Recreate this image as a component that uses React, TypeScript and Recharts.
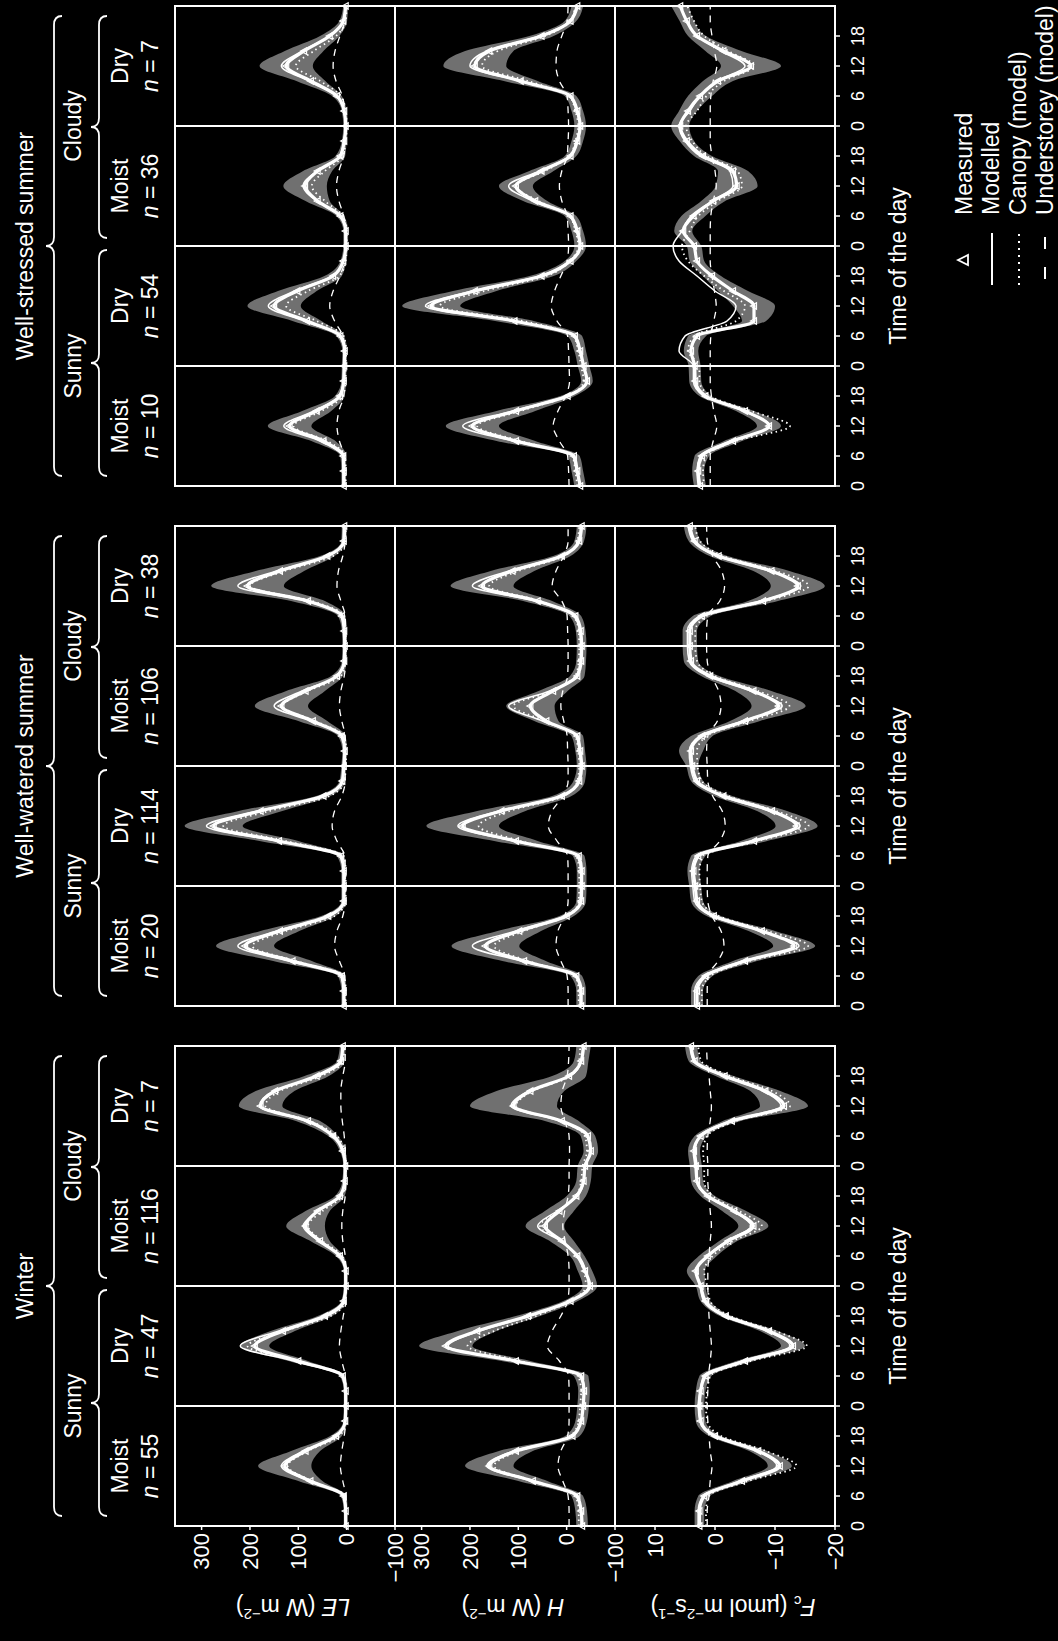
import React from "react";
import {
  ComposedChart,
  Line,
  Area,
  XAxis,
  YAxis,
  ReferenceLine,
  ReferenceArea,
} from "recharts";

const FONT = "'Liberation Sans', Arial, Helvetica, sans-serif";

// time of the four composite days, every 3 h
const hours = [0, 3, 6, 9, 12, 15, 18, 21, 24, 27, 30, 33, 36, 39, 42, 45, 48, 51, 54, 57, 60, 63, 66, 69, 72, 75, 78, 81, 84, 87, 90, 93, 96];
const timeTicks = [0, 6, 12, 18, 24, 30, 36, 42, 48, 54, 60, 66, 72, 78, 84, 90];
const dayBreaks = [24, 48, 72];
const energyTicks = [300, 200, 100, 0, -100];
const carbonTicks = [10, 0, -10, -20];

const seasonNames = ["Winter", "Well-watered summer", "Well-stressed summer"];
const skyNames = ["Sunny", "Cloudy"];
const soilNames = ["Moist", "Dry", "Moist", "Dry"];
const sampleSizes = [
  [55, 47, 116, 7],
  [20, 114, 106, 38],
  [10, 54, 36, 7],
];

// ---- Winter ----
const winterLeMeas = [2, 2, 6, 75, 128, 85, 22, 3, 2, 2, 8, 100, 190, 132, 45, 6, 2, 2, 14, 55, 85, 60, 14, 4, 3, 8, 28, 80, 178, 148, 62, 12, 8];
const winterLeModel = [3, 3, 5, 80, 135, 90, 20, 3, 3, 3, 8, 110, 220, 140, 40, 5, 3, 3, 12, 58, 90, 58, 12, 4, 3, 8, 25, 85, 180, 150, 60, 10, 8];
const winterLeCanopy = [1, 1, 3, 72, 122, 80, 15, 1, 1, 1, 5, 100, 205, 128, 33, 3, 1, 1, 9, 50, 80, 50, 9, 2, 1, 5, 20, 76, 168, 138, 52, 7, 5];
const winterLeUnder = [2, 2, 2, 8, 13, 10, 5, 2, 2, 2, 3, 10, 15, 12, 7, 2, 2, 2, 3, 8, 10, 8, 3, 2, 2, 3, 5, 9, 12, 12, 8, 3, 3];
const winterLeSd = [4, 4, 6, 25, 55, 30, 12, 4, 4, 4, 6, 20, 30, 25, 15, 5, 4, 4, 8, 20, 40, 25, 10, 5, 4, 6, 10, 25, 45, 40, 25, 8, 6];

const winterHMeas = [-32, -30, -22, 70, 160, 105, -12, -30, -34, -36, -30, 105, 250, 185, 80, -8, -48, -38, -22, 10, 45, 15, -20, -35, -38, -50, -44, 10, 110, 75, -5, -30, -35];
const winterHModel = [-30, -30, -20, 75, 165, 110, -10, -30, -33, -35, -28, 110, 245, 180, 75, -10, -45, -40, -25, 12, 60, 20, -23, -36, -38, -48, -42, 15, 115, 78, -8, -30, -33];
const winterHCanopy = [-25, -25, -18, 68, 150, 98, -8, -25, -28, -30, -24, 95, 205, 150, 63, -8, -40, -35, -22, 10, 55, 18, -20, -30, -33, -42, -38, 12, 105, 70, -8, -26, -28];
const winterHUnder = [-5, -5, -3, 8, 18, 12, -2, -5, -5, -5, -4, 15, 40, 30, 12, -2, -5, -5, -3, 3, 8, 4, -3, -5, -5, -6, -5, 4, 12, 9, -1, -4, -5];
const winterHSd = [12, 12, 12, 30, 50, 35, 15, 12, 12, 12, 15, 30, 55, 40, 25, 15, 15, 15, 15, 25, 40, 30, 20, 15, 15, 15, 15, 35, 90, 70, 35, 15, 15];

const winterFcMeas = [2.6, 2.6, 1.8, -4.5, -10.8, -7.2, 0, 2.4, 2.6, 2.4, 1.6, -5, -13, -9, -1.8, 1.6, 2.4, 3.2, 1.2, -2.2, -6.4, -3.2, 1.2, 3.0, 3.2, 3.5, 2.4, -2.8, -11.5, -8.4, -1.6, 3.4, 4.0];
const winterFcModel = [2.8, 2.8, 2.0, -4.2, -10.3, -7.0, 0.3, 2.5, 2.8, 2.5, 1.9, -4.5, -12.5, -8.6, -1.4, 1.9, 2.5, 3.0, 1.4, -1.9, -6.0, -3.0, 1.4, 3.0, 3.0, 3.3, 2.5, -2.5, -11.0, -8.0, -1.4, 3.6, 4.2];
const winterFcCanopy = [1.5, 1.5, 1, -5.5, -13.6, -8.5, -1, 1.3, 1.5, 1.3, 0.8, -6, -15.3, -10, -2.5, 0.8, 1.3, 1.8, 0.4, -3, -7.8, -4, 0.4, 1.8, 1.8, 2.0, 1.3, -3.5, -12.5, -9.5, -2.5, 2.3, 2.8];
const winterFcUnder = [1.3, 1.3, 1.0, 0.8, 0.5, 0.8, 1.0, 1.2, 1.3, 1.2, 1.1, 0.8, 0.6, 0.8, 1.0, 1.1, 1.2, 1.2, 1.0, 0.8, 0.6, 0.8, 1.0, 1.2, 1.2, 1.3, 1.2, 0.8, 0.6, 0.8, 1.0, 1.3, 1.4];
const winterFcSd = [0.8, 0.8, 1, 1.5, 2, 1.5, 1, 0.8, 0.8, 0.8, 1, 1.5, 2, 1.5, 1, 0.8, 0.8, 1.5, 1.5, 1.5, 2.5, 2, 1.2, 1, 1, 1, 1, 1.5, 4, 2.5, 1.5, 1, 1];

// ---- Well-watered summer ----
const wetLeMeas = [6, 6, 10, 112, 210, 138, 38, 6, 6, 6, 12, 140, 275, 178, 48, 9, 6, 4, 10, 70, 135, 85, 20, 5, 4, 5, 10, 80, 205, 138, 40, 6, 5];
const wetLeModel = [5, 5, 8, 120, 225, 145, 35, 5, 5, 5, 10, 145, 290, 185, 45, 8, 5, 3, 8, 75, 150, 92, 18, 4, 3, 4, 8, 85, 225, 145, 38, 5, 4];
const wetLeCanopy = [2, 2, 5, 105, 195, 125, 25, 2, 2, 2, 6, 125, 255, 160, 35, 4, 2, 1, 5, 65, 132, 80, 12, 2, 1, 2, 5, 72, 200, 128, 28, 2, 2];
const wetLeUnder = [3, 3, 4, 15, 25, 20, 8, 3, 3, 3, 4, 20, 30, 25, 10, 3, 3, 2, 3, 10, 15, 12, 5, 2, 2, 2, 3, 12, 20, 17, 8, 3, 2];
const wetLeSd = [5, 5, 8, 40, 60, 40, 15, 5, 5, 5, 8, 40, 60, 45, 15, 6, 5, 5, 8, 30, 55, 40, 12, 5, 5, 5, 8, 35, 75, 50, 15, 5, 5];

const wetHMeas = [-30, -30, -20, 88, 168, 98, 0, -30, -31, -31, -25, 105, 215, 135, 10, -26, -31, -28, -22, 42, 75, 28, -22, -30, -31, -29, -18, 60, 175, 112, 10, -26, -31];
const wetHModel = [-28, -28, -18, 95, 195, 105, 3, -28, -29, -29, -22, 110, 225, 140, 12, -24, -29, -26, -20, 50, 120, 35, -20, -28, -29, -27, -15, 65, 195, 120, 12, -24, -29];
const wetHCanopy = [-25, -25, -18, 80, 150, 88, 0, -25, -26, -26, -20, 95, 182, 118, 5, -22, -26, -24, -18, 45, 110, 30, -18, -25, -26, -25, -14, 55, 160, 100, 5, -22, -26];
const wetHUnder = [-3, -3, -1, 12, 22, 18, 4, -3, -3, -3, -2, 20, 38, 30, 8, -3, -3, -2, -1, 6, 12, 8, -2, -3, -3, -2, -1, 10, 30, 22, 6, -3, -3];
const wetHSd = [10, 10, 12, 45, 70, 45, 15, 10, 10, 10, 12, 45, 75, 50, 20, 12, 10, 10, 12, 25, 50, 30, 15, 10, 10, 10, 12, 30, 65, 45, 18, 10, 10];

const wetFcMeas = [3.0, 3.0, 1.6, -5, -13.2, -7.8, 0.2, 3.0, 3.3, 3.6, 2.8, -6.5, -13.6, -9.5, -1.4, 3.0, 3.8, 4.0, 2.2, -5, -10.6, -6.4, 0.8, 4.0, 4.2, 4.2, 2.2, -8, -13.8, -9.4, -0.6, 3.4, 4.2];
const wetFcModel = [3.4, 3.4, 1.9, -4.6, -14, -7.5, 0.5, 3.4, 3.7, 3.9, 3.2, -6, -14.2, -9, -1, 3.4, 4.1, 4.3, 2.6, -4.6, -11.2, -6, 1.2, 4.3, 4.6, 4.6, 2.6, -7.5, -14.3, -9, -0.3, 3.7, 4.5];
const wetFcCanopy = [2.2, 2.2, 0.8, -5.8, -15.5, -8.8, -0.6, 2.2, 2.5, 2.6, 2.0, -7.2, -15.6, -10.2, -2.2, 2.2, 2.9, 3.0, 1.4, -5.8, -12.4, -7.2, 0, 3.0, 3.3, 3.3, 1.4, -8.6, -15.6, -10.2, -1.4, 2.5, 3.3];
const wetFcUnder = [1.3, 1.3, 1.2, -0.5, -1.5, -1, 0.5, 1.2, 1.3, 1.3, 1.2, -0.8, -1.7, -1.2, 0.4, 1.2, 1.3, 1.4, 1.2, -0.4, -1, -0.6, 0.6, 1.3, 1.4, 1.4, 1.2, -0.8, -1.6, -1.1, 0.4, 1.3, 1.4];
const wetFcSd = [1, 1, 1.2, 2, 3.5, 2.2, 1.2, 1, 1, 1, 1.2, 2.2, 3.5, 2.5, 1.5, 1, 1, 2, 1.8, 2.5, 4.5, 3, 1.5, 1.2, 1.2, 1.2, 1.5, 2.5, 4.5, 3, 1.5, 1, 1];

// ---- Well-stressed summer ----
const dryLeMeas = [6, 6, 7, 48, 118, 62, 14, 6, 5, 4, 13, 82, 150, 102, 28, 7, 2, 2, 13, 60, 86, 60, 13, 5, 2, 5, 20, 74, 125, 88, 35, 7, 2];
const dryLeModel = [7, 7, 8, 55, 130, 68, 15, 7, 6, 5, 14, 88, 162, 108, 30, 7, 2, 2, 14, 62, 90, 62, 14, 6, 2, 6, 21, 78, 135, 92, 36, 7, 2];
const dryLeCanopy = [2, 2, 3, 40, 110, 52, 8, 2, 2, 1, 6, 62, 125, 80, 15, 2, 0, 0, 8, 45, 72, 45, 8, 2, 0, 2, 12, 55, 105, 68, 22, 2, 0];
const dryLeUnder = [4, 4, 5, 15, 20, 16, 6, 4, 4, 4, 8, 25, 35, 28, 14, 4, 2, 2, 6, 16, 21, 16, 6, 3, 2, 4, 9, 22, 28, 24, 14, 4, 2];
const dryLeSd = [5, 5, 6, 25, 45, 30, 10, 5, 5, 5, 8, 30, 55, 40, 18, 6, 5, 5, 8, 25, 45, 30, 10, 5, 5, 5, 10, 30, 55, 40, 20, 8, 5];

const dryHMeas = [-28, -22, -15, 105, 195, 105, -2, -42, -35, -28, -17, 108, 280, 190, 52, -8, -28, -22, -8, 65, 105, 52, -8, -22, -28, -22, -8, 95, 190, 160, 52, -8, -22];
const dryHModel = [-27, -20, -13, 112, 215, 112, 1, -41, -34, -27, -15, 112, 292, 195, 56, -6, -27, -20, -6, 70, 120, 56, -6, -20, -27, -20, -6, 98, 200, 165, 56, -6, -20];
const dryHCanopy = [-22, -18, -12, 95, 185, 95, -2, -35, -30, -24, -14, 90, 262, 170, 42, -6, -24, -18, -6, 58, 105, 45, -6, -18, -24, -18, -6, 80, 175, 142, 44, -6, -18];
const dryHUnder = [-5, -4, -2, 15, 28, 18, 2, -6, -5, -4, -2, 20, 32, 25, 12, -1, -4, -3, -1, 10, 15, 10, -1, -3, -4, -3, -1, 15, 22, 20, 10, -1, -3];
const dryHSd = [12, 12, 12, 40, 55, 40, 15, 12, 12, 12, 15, 40, 60, 45, 25, 12, 12, 12, 12, 25, 35, 25, 12, 12, 12, 12, 12, 35, 65, 50, 25, 12, 12];

const dryFcMeas = [2.5, 2.8, 2.2, -3.0, -9.0, -5.0, 1.6, 3.3, 3.4, 4.0, 3.0, -6.5, -6.5, -3.0, 0.5, 3.0, 3.5, 5.3, 3.6, 0.3, -3.6, -3.0, 2.0, 4.7, 5.8, 4.5, 2.5, -0.5, -6.0, -1.4, 3.0, 4.7, 5.8];
const dryFcModel = [2.8, 3.0, 2.5, -2.5, -9.2, -4.7, 1.9, 3.6, 3.6, 6.0, 5.0, -2.0, -3.5, 0, 3.0, 6.0, 7.0, 5.5, 4.0, 0.5, -3.0, -2.5, 2.5, 5.0, 6.0, 4.2, 2.5, -0.3, -5.0, -1.0, 3.0, 4.7, 5.8];
const dryFcCanopy = [1.8, 2.0, 1.5, -3.5, -12.5, -6, 0.8, 2.6, 2.6, 4.5, 3.5, -3.5, -5, -1.5, 1.8, 4.5, 5.5, 4.2, 2.8, -0.5, -4.5, -3.8, 1.4, 3.8, 4.8, 3.0, 1.4, -1.5, -6.5, -2.2, 1.8, 3.5, 4.6];
const dryFcUnder = [0.8, 0.8, 0.8, 0.3, -0.3, 0.2, 0.6, 0.8, 0.8, 0.8, 0.7, 0.2, -0.2, 0.1, 0.5, 0.8, 0.8, 0.8, 0.7, 0.3, -0.2, 0, 0.5, 0.8, 0.8, 0.8, 0.7, 0.3, -0.3, 0.1, 0.5, 0.8, 0.8];
const dryFcSd = [1, 1, 1.2, 1.5, 2, 1.5, 1, 1, 1, 1.2, 1.5, 2, 3.5, 2.5, 1.5, 1.2, 1.2, 1.5, 2, 2, 3.5, 2.5, 1.5, 1.2, 1.5, 1.5, 2, 2.5, 5, 3, 1.5, 1.2, 1.5];

interface Series {
  meas: number[];
  model: number[];
  canopy: number[];
  under: number[];
  sd: number[];
}

// panels[season][row]  rows: LE, H, Fc
const panels: Series[][] = [
  [
    { meas: winterLeMeas, model: winterLeModel, canopy: winterLeCanopy, under: winterLeUnder, sd: winterLeSd },
    { meas: winterHMeas, model: winterHModel, canopy: winterHCanopy, under: winterHUnder, sd: winterHSd },
    { meas: winterFcMeas, model: winterFcModel, canopy: winterFcCanopy, under: winterFcUnder, sd: winterFcSd },
  ],
  [
    { meas: wetLeMeas, model: wetLeModel, canopy: wetLeCanopy, under: wetLeUnder, sd: wetLeSd },
    { meas: wetHMeas, model: wetHModel, canopy: wetHCanopy, under: wetHUnder, sd: wetHSd },
    { meas: wetFcMeas, model: wetFcModel, canopy: wetFcCanopy, under: wetFcUnder, sd: wetFcSd },
  ],
  [
    { meas: dryLeMeas, model: dryLeModel, canopy: dryLeCanopy, under: dryLeUnder, sd: dryLeSd },
    { meas: dryHMeas, model: dryHModel, canopy: dryHCanopy, under: dryHUnder, sd: dryHSd },
    { meas: dryFcMeas, model: dryFcModel, canopy: dryFcCanopy, under: dryFcUnder, sd: dryFcSd },
  ],
];

// layout in the un-rotated frame (1641 x 1058), rotated -90deg at the end
const FRAME_W = 1641;
const FRAME_H = 1058;
const PLOT_W = 480;
const ROW_H = 220;
const COL_LEFT = [115, 635, 1155];
const ROW_TOP = [175, 395, 615];
const ROW_DOMAINS: [number, number][] = [
  [-100, 355],
  [-100, 355],
  [-20, 16.67],
];
const ROW_TICKS = [energyTicks, energyTicks, carbonTicks];
const Y_AXIS_W = 70;
const X_AXIS_H = 40;
const PAD = 2;

function fmtSigned(v: number) {
  return v < 0 ? `\u2212${Math.abs(v)}` : String(v);
}

function Tri({ cx, cy }: { cx?: number; cy?: number }) {
  if (cx == null || cy == null) return null;
  return (
    <path
      d={`M${cx},${cy - 3.5}L${cx + 3.2},${cy + 2.5}L${cx - 3.2},${cy + 2.5}Z`}
      fill="none"
      stroke="#fff"
      strokeWidth={1.2}
    />
  );
}

const tickStroke = { stroke: "#fff", strokeWidth: 1.5 };

function Panel({ s, r }: { s: number; r: number }) {
  const ser = panels[s][r];
  const data = hours.map((t, i) => ({
    t,
    meas: ser.meas[i],
    model: ser.model[i],
    canopy: ser.canopy[i],
    under: ser.under[i],
    band: [ser.meas[i] - ser.sd[i], ser.meas[i] + ser.sd[i]],
  }));
  const showY = s === 0;
  const showX = r === 2;
  const yw = showY ? Y_AXIS_W : 0;
  const xh = showX ? X_AXIS_H : 0;
  const dom = ROW_DOMAINS[r];

  return (
    <div style={{ position: "absolute", left: COL_LEFT[s] - yw - PAD, top: ROW_TOP[r] - PAD }}>
      <ComposedChart
        width={PLOT_W + yw + 2 * PAD}
        height={ROW_H + xh + 2 * PAD}
        data={data}
        margin={{ top: PAD, right: PAD, bottom: PAD, left: PAD }}
        style={{ overflow: "visible" }}
      >
        <XAxis
          type="number"
          dataKey="t"
          domain={[0, 96]}
          ticks={timeTicks}
          interval={0}
          hide={!showX}
          height={X_AXIS_H}
          axisLine={false}
          tickLine={tickStroke}
          tickSize={5}
          tickMargin={11}
          tick={{ fill: "#fff", fontSize: 18, fontFamily: FONT }}
          tickFormatter={(v: number) => String(v % 24)}
        />
        <XAxis
          xAxisId="top"
          orientation="top"
          type="number"
          dataKey="t"
          domain={[0, 96]}
          ticks={timeTicks}
          interval={0}
          mirror
          height={0}
          axisLine={false}
          tickLine={tickStroke}
          tickSize={4}
          tick={false}
        />
        <YAxis
          type="number"
          domain={dom}
          ticks={ROW_TICKS[r]}
          interval={0}
          hide={!showY}
          width={Y_AXIS_W}
          axisLine={false}
          tickLine={tickStroke}
          tickSize={4}
          tickMargin={3}
          tick={{ fill: "#fff", fontSize: 22, fontFamily: FONT }}
          tickFormatter={fmtSigned}
          allowDataOverflow
        />
        <YAxis
          yAxisId="right"
          orientation="right"
          type="number"
          domain={dom}
          ticks={ROW_TICKS[r]}
          interval={0}
          mirror
          width={0}
          axisLine={false}
          tickLine={tickStroke}
          tickSize={4}
          tick={false}
          allowDataOverflow
        />
        {!showY && (
          <YAxis
            yAxisId="left2"
            orientation="left"
            type="number"
            domain={dom}
            ticks={ROW_TICKS[r]}
            interval={0}
            mirror
            width={0}
            axisLine={false}
            tickLine={tickStroke}
            tickSize={4}
            tick={false}
            allowDataOverflow
          />
        )}
        <Area type="monotone" dataKey="band" stroke="none" fill="#707070" fillOpacity={1} isAnimationActive={false} />
        <Line type="monotone" dataKey="under" stroke="#fff" strokeWidth={1.3} strokeDasharray="7 6" dot={false} isAnimationActive={false} />
        <Line type="monotone" dataKey="canopy" stroke="#fff" strokeWidth={1.8} strokeDasharray="1.5 3.5" dot={false} isAnimationActive={false} />
        <Line
          type="monotone"
          dataKey="meas"
          stroke="#fff"
          strokeWidth={3.2}
          dot={(p: any) => <Tri key={`m${p.index}`} cx={p.cx} cy={p.cy} />}
          isAnimationActive={false}
        />
        <Line type="monotone" dataKey="model" stroke="#fff" strokeWidth={1.5} dot={false} isAnimationActive={false} />
        <ReferenceArea x1={0} x2={96} y1={dom[0]} y2={dom[1]} fill="none" stroke="#fff" strokeWidth={2} />
        {dayBreaks.map((d) => (
          <ReferenceLine key={d} x={d} stroke="#fff" strokeWidth={2} />
        ))}
      </ComposedChart>
    </div>
  );
}

function bracePath(u1: number, u2: number, v: number, depth: number) {
  const m = (u1 + u2) / 2;
  const k = 9;
  return `M${u1},${v + depth} Q${u1},${v} ${u1 + k},${v} L${m - k},${v} Q${m},${v} ${m},${v - depth} Q${m},${v} ${m + k},${v} L${u2 - k},${v} Q${u2},${v} ${u2},${v + depth}`;
}

const txt = { fill: "#fff", fontFamily: FONT, fontSize: 23 } as const;

function Labels() {
  const rowTitleV = [293, 513, 733];
  return (
    <svg width={FRAME_W} height={FRAME_H} style={{ position: "absolute", left: 0, top: 0 }}>
      {seasonNames.map((name, s) => {
        const u0 = COL_LEFT[s];
        const mid = u0 + PLOT_W / 2;
        return (
          <g key={name}>
            <text x={mid} y={25} textAnchor="middle" dominantBaseline="central" {...txt}>
              {name}
            </text>
            <path d={bracePath(u0 + 10, u0 + PLOT_W - 10, 54, 8)} fill="none" stroke="#fff" strokeWidth={1.8} />
            {skyNames.map((sky, k) => (
              <g key={sky}>
                <text x={u0 + 120 + 240 * k} y={73} textAnchor="middle" dominantBaseline="central" {...txt}>
                  {sky}
                </text>
                <path
                  d={bracePath(u0 + (k === 0 ? 10 : 248), u0 + (k === 0 ? 236 : 470), 99, 8)}
                  fill="none"
                  stroke="#fff"
                  strokeWidth={1.8}
                />
              </g>
            ))}
            {soilNames.map((soil, d) => (
              <g key={d}>
                <text x={u0 + 60 + 120 * d} y={120} textAnchor="middle" dominantBaseline="central" {...txt}>
                  {soil}
                </text>
                <text x={u0 + 60 + 120 * d} y={150} textAnchor="middle" dominantBaseline="central" {...txt}>
                  <tspan fontStyle="italic">n</tspan>
                  {` = ${sampleSizes[s][d]}`}
                </text>
              </g>
            ))}
            <text x={mid - 20} y={898} textAnchor="middle" dominantBaseline="central" {...txt}>
              Time of the day
            </text>
          </g>
        );
      })}

      {/* axis titles */}
      <text x={34} y={rowTitleV[0]} transform={`rotate(-90 34 ${rowTitleV[0]})`} textAnchor="middle" dominantBaseline="central" {...txt}>
        <tspan fontStyle="italic">LE</tspan>
        {" (W m"}
        <tspan dy={-8} fontSize={15}>{"\u22122"}</tspan>
        <tspan dy={8}>)</tspan>
      </text>
      <text x={34} y={rowTitleV[1]} transform={`rotate(-90 34 ${rowTitleV[1]})`} textAnchor="middle" dominantBaseline="central" {...txt}>
        <tspan fontStyle="italic">H</tspan>
        {" (W m"}
        <tspan dy={-8} fontSize={15}>{"\u22122"}</tspan>
        <tspan dy={8}>)</tspan>
      </text>
      <text x={34} y={rowTitleV[2]} transform={`rotate(-90 34 ${rowTitleV[2]})`} textAnchor="middle" dominantBaseline="central" {...txt}>
        <tspan fontStyle="italic">F</tspan>
        <tspan dy={5} fontSize={15}>c</tspan>
        <tspan dy={-5}>{" (\u00b5mol m"}</tspan>
        <tspan dy={-8} fontSize={15}>{"\u22122"}</tspan>
        <tspan dy={8}>s</tspan>
        <tspan dy={-8} fontSize={15}>{"\u22121"}</tspan>
        <tspan dy={8}>)</tspan>
      </text>

      {/* legend */}
      <path d="M1381,958 L1386,968 L1376,968 Z" fill="none" stroke="#fff" strokeWidth={1.8} />
      <line x1={1356} y1={992} x2={1408} y2={992} stroke="#fff" strokeWidth={2} />
      <line x1={1356} y1={1019} x2={1408} y2={1019} stroke="#fff" strokeWidth={2} strokeDasharray="2 5" />
      <line x1={1362} y1={1045} x2={1408} y2={1045} stroke="#fff" strokeWidth={2} strokeDasharray="12 18" />
      <text x={1426} y={964} dominantBaseline="central" {...txt}>Measured</text>
      <text x={1426} y={991} dominantBaseline="central" {...txt}>Modelled</text>
      <text x={1426} y={1018} dominantBaseline="central" {...txt}>Canopy (model)</text>
      <text x={1426} y={1045} dominantBaseline="central" {...txt}>Understorey (model)</text>
    </svg>
  );
}

export default function App() {
  return (
    <div
      style={{
        position: "absolute",
        left: 0,
        top: 0,
        width: FRAME_H,
        height: FRAME_W,
        background: "#000",
        overflow: "hidden",
      }}
    >
      <style>{`.recharts-surface { overflow: visible; }`}</style>
      <div
        style={{
          position: "absolute",
          left: 0,
          top: 0,
          width: FRAME_W,
          height: FRAME_H,
          transformOrigin: "0 0",
          transform: `translateY(${FRAME_W}px) rotate(-90deg)`,
        }}
      >
        {[0, 1, 2].map((s) =>
          [0, 1, 2].map((r) => <Panel key={`${s}-${r}`} s={s} r={r} />)
        )}
        <Labels />
      </div>
    </div>
  );
}
